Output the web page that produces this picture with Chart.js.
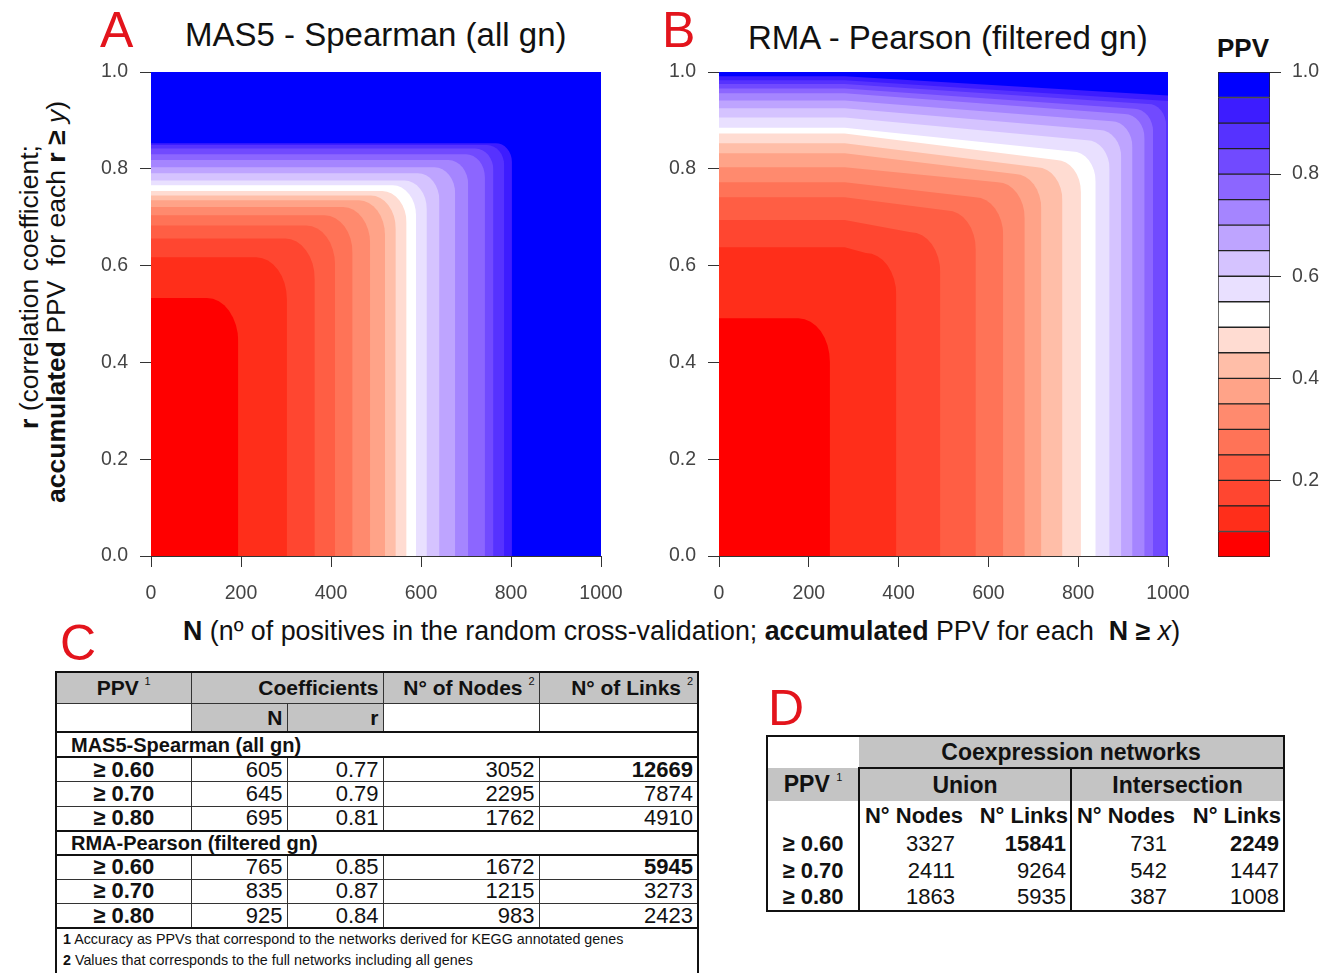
<!DOCTYPE html>
<html>
<head>
<meta charset="utf-8">
<script src="https://cdn.jsdelivr.net/npm/chart.js@4.4.1/dist/chart.umd.min.js"></script>
<style>
  body { margin: 0; width: 1336px; height: 973px; position: relative; overflow: hidden; background: #fff;
         font-family: "Liberation Sans", Arial, sans-serif; color: #111; }
  .abs { position: absolute; white-space: nowrap; line-height: 1; }
  .letter { color: #e3141c; font-size: 50px; }
  .title { font-size: 33px; color: #111; }
  .vt { transform: translate(-50%, -50%) rotate(-90deg); font-size: 26.5px; }
  canvas { position: absolute; }
  table.tbl { position: absolute; border-collapse: collapse; table-layout: fixed; }
  table.tbl td { padding: 0 4px; overflow: hidden; white-space: nowrap; line-height: 1; }
  #tblC { left: 55px; top: 671px; width: 642px; font-size: 22px; border: 2px solid #111; }
  #tblC td { border: 1px solid #333; text-align: right; }
  #tblC .hd { background: #c4c4c4; font-weight: bold; font-size: 21px; }
  #tblC .grp td { font-weight: bold; font-size: 20px; text-align: left; padding-left: 14px;
                  border-top: 2px solid #111; border-bottom: 2px solid #111; }
  #tblC .note td { font-size: 14.3px; text-align: left; padding-left: 6px; line-height: 21px; vertical-align: top;
                   border-top: 2px solid #111; }
  #tblD { left: 766px; top: 735px; width: 517px; font-size: 22px; border: 2px solid #111; }
  #tblD td { text-align: right; border: none; padding: 0 4px; }
  #tblD .hd { background: #c4c4c4; font-weight: bold; font-size: 23px; text-align: center; }
  sup { font-size: 11px; vertical-align: top; position: relative; top: -1px; font-weight: normal; }
  .c { text-align: center !important; }
  .b { font-weight: bold; }
</style>
</head>
<body>

<div class="abs letter" style="left:100px; top:5px;">A</div>
<div class="abs letter" style="left:662px; top:5px;">B</div>
<div class="abs letter" style="left:60px; top:618px;">C</div>
<div class="abs letter" style="left:768px; top:683px;">D</div>

<div class="abs title" style="left:185px; top:18px;">MAS5 - Spearman (all gn)</div>
<div class="abs title" style="left:748px; top:21px;">RMA - Pearson (filtered gn)</div>
<div class="abs b" style="left:1217px; top:35px; font-size:26px;">PPV</div>

<div class="abs vt" style="left:29px; top:287px;"><b>r</b> (correlation coefficient;</div>
<div class="abs vt" style="left:56px; top:302px;"><b>accumulated</b> PPV&nbsp; for each <b>r ≥</b> <i>y</i>)</div>
<div class="abs" style="left:183px; top:618px; font-size:26.8px;"><b>N</b> (nº of positives in the random cross-validation; <b>accumulated</b> PPV for each&nbsp; <b>N ≥</b> <i>x</i>)</div>

<canvas id="heatA" width="540" height="540" style="left:90px; top:60px;"></canvas>
<canvas id="heatB" width="539" height="540" style="left:658px; top:60px;"></canvas>
<canvas id="cbar" width="131" height="510" style="left:1205px; top:60px;"></canvas>

<table id="tblC" class="tbl"></table>
<table id="tblD" class="tbl"></table>

<script>
// contour levels (PPV) shared by both panels
const contourLevels = [0.10, 0.15, 0.20, 0.25, 0.30, 0.35, 0.40, 0.45, 0.50,
                       0.55, 0.60, 0.65, 0.70, 0.75, 0.80, 0.85, 0.90, 0.95];
const colorbarEdges = [0.05, 0.10, 0.15, 0.20, 0.25, 0.30, 0.35, 0.40, 0.45, 0.50,
                       0.55, 0.60, 0.65, 0.70, 0.75, 0.80, 0.85, 0.90, 0.95, 1.00];
const colorbarTicks = [0.2, 0.4, 0.6, 0.8, 1.0];
const nTicks = [0, 200, 400, 600, 800, 1000];
const rTicks = [0.0, 0.2, 0.4, 0.6, 0.8, 1.0];

// A: MAS5 - Spearman. N where each level is crossed along r = 0, r where crossed along N = 0
const masN = [194, 302, 364, 409, 448, 487, 520, 544, 568, 589, 613, 641, 676, 705, 742, 761, 785, 802];
const masR = [0.533, 0.617, 0.656, 0.683, 0.704, 0.721, 0.735, 0.745, 0.754,
              0.766, 0.776, 0.791, 0.803, 0.818, 0.830, 0.842, 0.849, 0.853];

// B: RMA - Pearson. r at N = 0 and r just before the bend of each contour
const rmaN = [247, 395, 493, 572, 633, 681, 718, 765, 806, 839, 870, 896, 921, 948, 967, 996, 1040, 1100];
const rmaRLeft = [0.491, 0.638, 0.694, 0.741, 0.772, 0.803, 0.832, 0.853, 0.873,
                  0.885, 0.906, 0.925, 0.941, 0.956, 0.966, 0.975, 0.983, 0.991];
const rmaRBend = [0.491, 0.626, 0.669, 0.714, 0.741, 0.772, 0.789, 0.803, 0.818,
                  0.836, 0.859, 0.880, 0.898, 0.913, 0.924, 0.934, 0.940, 0.948];

// table C
const tcPPV = ['≥ 0.60', '≥ 0.70', '≥ 0.80'];
const masCoefN = [605, 645, 695];
const masCoefR = ['0.77', '0.79', '0.81'];
const masNodes = [3052, 2295, 1762];
const masLinks = [12669, 7874, 4910];
const rmaCoefN = [765, 835, 925];
const rmaCoefR = ['0.85', '0.87', '0.84'];
const rmaNodes = [1672, 1215, 983];
const rmaLinks = [5945, 3273, 2423];

// table D
const unionNodes = [3327, 2411, 1863];
const unionLinks = [15841, 9264, 5935];
const interNodes = [731, 542, 387];
const interLinks = [2249, 1447, 1008];

const bandColors = ['#ff0000', '#ff2e1a', '#ff4630', '#ff5e44', '#ff7357', '#ff8a6e', '#ffa388', '#ffbea8', '#ffdcd2',
                    '#ffffff', '#e9e0ff', '#d5c3ff', '#bea4ff', '#a585ff', '#8c66ff', '#714aff', '#5632ff', '#3d1cff', '#0000ff'];
const FONT = '"Liberation Sans", Arial, sans-serif';
const KNEE_N = 280;

function contourPath(nEdge, rLeft, rBend, k) {
  const cN = 70 - 2 * k, cR = 0.09 - 0.003 * k;
  const pts = [{ x: 0, y: rLeft }];
  if (rBend !== rLeft && KNEE_N < nEdge - cN) pts.push({ x: KNEE_N, y: rLeft });
  for (let i = 0; i <= 8; i++) {
    const a = Math.PI / 2 * (1 - i / 8);
    pts.push({ x: nEdge - cN + cN * Math.cos(a), y: rBend - cR + cR * Math.sin(a) });
  }
  pts.push({ x: nEdge, y: 0 });
  return pts;
}

// fixed-size axis: tick labels are allowed to overflow, layout padding places the plot area
function tickAxis(min, max, values, fmt, pad, setSize) {
  return {
    type: 'linear', min, max,
    afterBuildTicks: s => { s.ticks = values.map(v => ({ value: v })); },
    afterFit: s => {
      setSize(s);
      s.paddingLeft = s.paddingRight = s.paddingTop = s.paddingBottom = 0;
    },
    ticks: { font: { size: 19.5, family: FONT }, color: '#444', padding: pad, maxRotation: 0, callback: fmt },
    grid: { drawOnChartArea: false, drawTicks: true, tickLength: 11, color: '#333' },
    border: { color: '#333', width: 1 }
  };
}

function heatChart(id, nEdge, rLeft, rBend) {
  const datasets = contourLevels.map((lv, k) => ({
    label: 'PPV < ' + lv,
    data: contourPath(nEdge[k], rLeft[k], rBend[k], k),
    showLine: true, fill: 'origin', pointRadius: 0, borderWidth: 0,
    backgroundColor: bandColors[k]
  }));
  datasets.push({
    label: 'PPV ≥ 0.95', data: [{ x: 0, y: 1 }, { x: 1000, y: 1 }],
    showLine: true, fill: 'origin', pointRadius: 0, borderWidth: 0, backgroundColor: bandColors[18]
  });
  new Chart(document.getElementById(id), {
    type: 'scatter',
    data: { datasets },
    options: {
      responsive: false, animation: false,
      layout: { padding: { top: 12, right: 29, left: 0, bottom: 0 } },
      plugins: { legend: { display: false }, tooltip: { enabled: false } },
      scales: {
        x: tickAxis(0, 1000, nTicks, v => v, 15, s => { s.height = 44; }),
        y: tickAxis(0, 1, rTicks, v => v.toFixed(1), 12, s => { s.width = 61; })
      }
    }
  });
}

heatChart('heatA', masN, masR, masR);
heatChart('heatB', rmaN, rmaRLeft, rmaRBend);

// colour key
new Chart(document.getElementById('cbar'), {
  type: 'bar',
  data: {
    labels: ['PPV'],
    datasets: bandColors.map((c, i) => ({
      data: [[colorbarEdges[i], colorbarEdges[i + 1]]],
      backgroundColor: c, borderColor: '#222', borderWidth: 1, borderSkipped: false,
      grouped: false, barPercentage: 1, categoryPercentage: 1
    }))
  },
  options: {
    responsive: false, animation: false,
    layout: { padding: { top: 12, left: 13, bottom: 13, right: 0 } },
    plugins: { legend: { display: false }, tooltip: { enabled: false } },
    scales: {
      x: { display: false },
      y: Object.assign(tickAxis(0.05, 1.0, colorbarTicks, v => v.toFixed(1), 11, s => { s.width = 66; }),
                       { position: 'right', border: { display: false } })
    }
  }
});

// table C
function rowsC(ppv, cn, cr, nodes, links) {
  return ppv.map((p, i) =>
    `<tr style="height:24.5px"><td class="c b">${p}</td><td>${cn[i]}</td><td>${cr[i]}</td>` +
    `<td>${nodes[i]}</td><td${i === 0 ? ' class="b"' : ''}>${links[i]}</td></tr>`).join('');
}
document.getElementById('tblC').innerHTML =
  '<colgroup><col style="width:135px"><col style="width:96px"><col style="width:96px"><col style="width:156px"><col style="width:159px"></colgroup>' +
  '<tr style="height:31px"><td class="hd c">PPV <sup>1</sup></td><td class="hd" colspan="2">Coefficients</td>' +
  '<td class="hd">N° of Nodes <sup>2</sup></td><td class="hd">N° of Links <sup>2</sup></td></tr>' +
  '<tr style="height:29px"><td></td><td class="hd">N</td><td class="hd">r</td><td></td><td></td></tr>' +
  '<tr class="grp" style="height:25px"><td colspan="5">MAS5-Spearman (all gn)</td></tr>' +
  rowsC(tcPPV, masCoefN, masCoefR, masNodes, masLinks) +
  '<tr class="grp" style="height:24px"><td colspan="5">RMA-Pearson (filtered gn)</td></tr>' +
  rowsC(tcPPV, rmaCoefN, rmaCoefR, rmaNodes, rmaLinks) +
  '<tr class="note" style="height:50px"><td colspan="5"><b>1</b> Accuracy as PPVs that correspond to the networks derived for KEGG annotated genes<br>' +
  '<b>2</b> Values that corresponds to the full networks including all genes</td></tr>';

// table D
const L = 'border-left:2px solid #111;';
document.getElementById('tblD').innerHTML =
  '<colgroup><col style="width:92px"><col style="width:106px"><col style="width:106px"><col style="width:106px"><col style="width:107px"></colgroup>' +
  '<tr style="height:32px"><td></td><td class="hd" colspan="4" style="border-bottom:2px solid #111">Coexpression networks</td></tr>' +
  `<tr style="height:33px"><td class="hd">PPV <sup>1</sup></td><td class="hd" colspan="2" style="${L}">Union</td><td class="hd" colspan="2" style="${L}">Intersection</td></tr>` +
  `<tr style="height:29px" class="b"><td></td><td style="${L}padding-right:2px">N° Nodes</td><td style="padding-right:2px">N° Links</td>` +
  `<td style="${L}padding-right:2px">N° Nodes</td><td style="padding-right:2px">N° Links</td></tr>` +
  tcPPV.map((p, i) =>
    `<tr style="height:27px"><td class="c b">${p}</td><td style="${L}padding-right:10px">${unionNodes[i]}</td>` +
    `<td${i === 0 ? ' class="b"' : ''}>${unionLinks[i]}</td><td style="${L}padding-right:10px">${interNodes[i]}</td>` +
    `<td${i === 0 ? ' class="b"' : ''}>${interLinks[i]}</td></tr>`).join('');
</script>
</body>
</html>
